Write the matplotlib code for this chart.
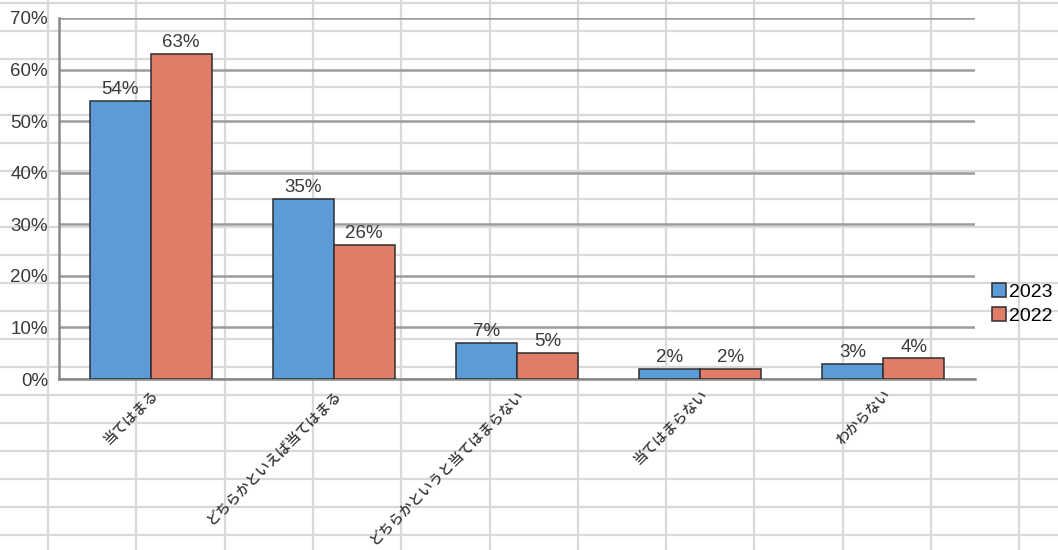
import numpy as np
import matplotlib.pyplot as plt
import matplotlib.transforms as mtransforms

plt.rcParams['font.family'] = ['Liberation Sans', 'Noto Sans CJK JP', 'DejaVu Sans']

categories = ['当てはまる', 'どちらかといえば当てはまる', 'どちらかというと当てはまらない',
              '当てはまらない', 'わからない']
years = ['2023', '2022']
values_2023 = [54, 35, 7, 2, 3]
values_2022 = [63, 26, 5, 2, 4]
yticks = [0, 10, 20, 30, 40, 50, 60, 70]

W, H = 1058, 550
fig = plt.figure(figsize=(W / 100, H / 100), dpi=100)
fig.patch.set_facecolor('white')

# spreadsheet cells behind the chart
bg = fig.add_axes([0, 0, 1, 1], zorder=-1)
bg.set_xlim(0, W)
bg.set_ylim(H, 0)
bg.axis('off')
for x in np.arange(48, W, 88.3):
    bg.axvline(x, color='#d9d9d9', lw=1.6)
for y in np.arange(3, H, 28.0):
    bg.axhline(y, color='#d9d9d9', lw=1.6)

# plot area in pixels: x 59..975, y 18..379
ax = fig.add_axes([59 / W, (H - 379) / H, (975 - 59) / W, (379 - 18) / H])
ax.patch.set_visible(False)

x = np.arange(len(categories))
bw = 0.333
colors = ['#5b9bd8', '#e07c67']
b1 = ax.bar(x - bw / 2, values_2023, bw, color=colors[0], edgecolor='#2e2e2e',
            linewidth=1.1, label=years[0], zorder=3)
b2 = ax.bar(x + bw / 2, values_2022, bw, color=colors[1], edgecolor='#2e2e2e',
            linewidth=1.1, label=years[1], zorder=3)
for bars in (b1, b2):
    ax.bar_label(bars, labels=[f'{v}%' for v in bars.datavalues], padding=2,
                 fontsize=13.5, color='#3a3a3a')

ax.set_xlim(-0.5, len(categories) - 0.5)
ax.set_ylim(0, 70)
ax.set_yticks(yticks)
ax.set_yticklabels([f'{t}%' for t in yticks], fontsize=13.5, color='#3a3a3a')
ax.yaxis.grid(True, color='#9c9c9c', lw=1.8, zorder=1)
ax.set_axisbelow(True)

ax.set_xticks(x)
ax.set_xticklabels(categories, rotation=45, ha='right', va='top',
                   rotation_mode='anchor', fontsize=10.2, fontweight='medium',
                   family=['Noto Sans CJK JP', 'DejaVu Sans'], color='#333333')
# nudge the slanted labels a little to the left
shift = mtransforms.ScaledTranslation(-4 / 100, 0, fig.dpi_scale_trans)
for lbl in ax.get_xticklabels():
    lbl.set_transform(lbl.get_transform() + shift)
ax.tick_params(axis='both', length=0)
ax.tick_params(axis='x', pad=6)
ax.tick_params(axis='y', pad=8)

for side in ('top', 'right'):
    ax.spines[side].set_visible(False)
ax.spines['left'].set_color('#888888')
ax.spines['left'].set_linewidth(1.8)
ax.spines['bottom'].set_color('#888888')
ax.spines['bottom'].set_linewidth(1.8)

fig.legend(loc='center left', bbox_to_anchor=(992 / W, 1 - 304 / H), frameon=False,
           fontsize=14, handlelength=0.7, handleheight=0.7, handletextpad=0.15,
           labelspacing=0.3, borderpad=0, borderaxespad=0)

fig.savefig('out.png', dpi=100)
